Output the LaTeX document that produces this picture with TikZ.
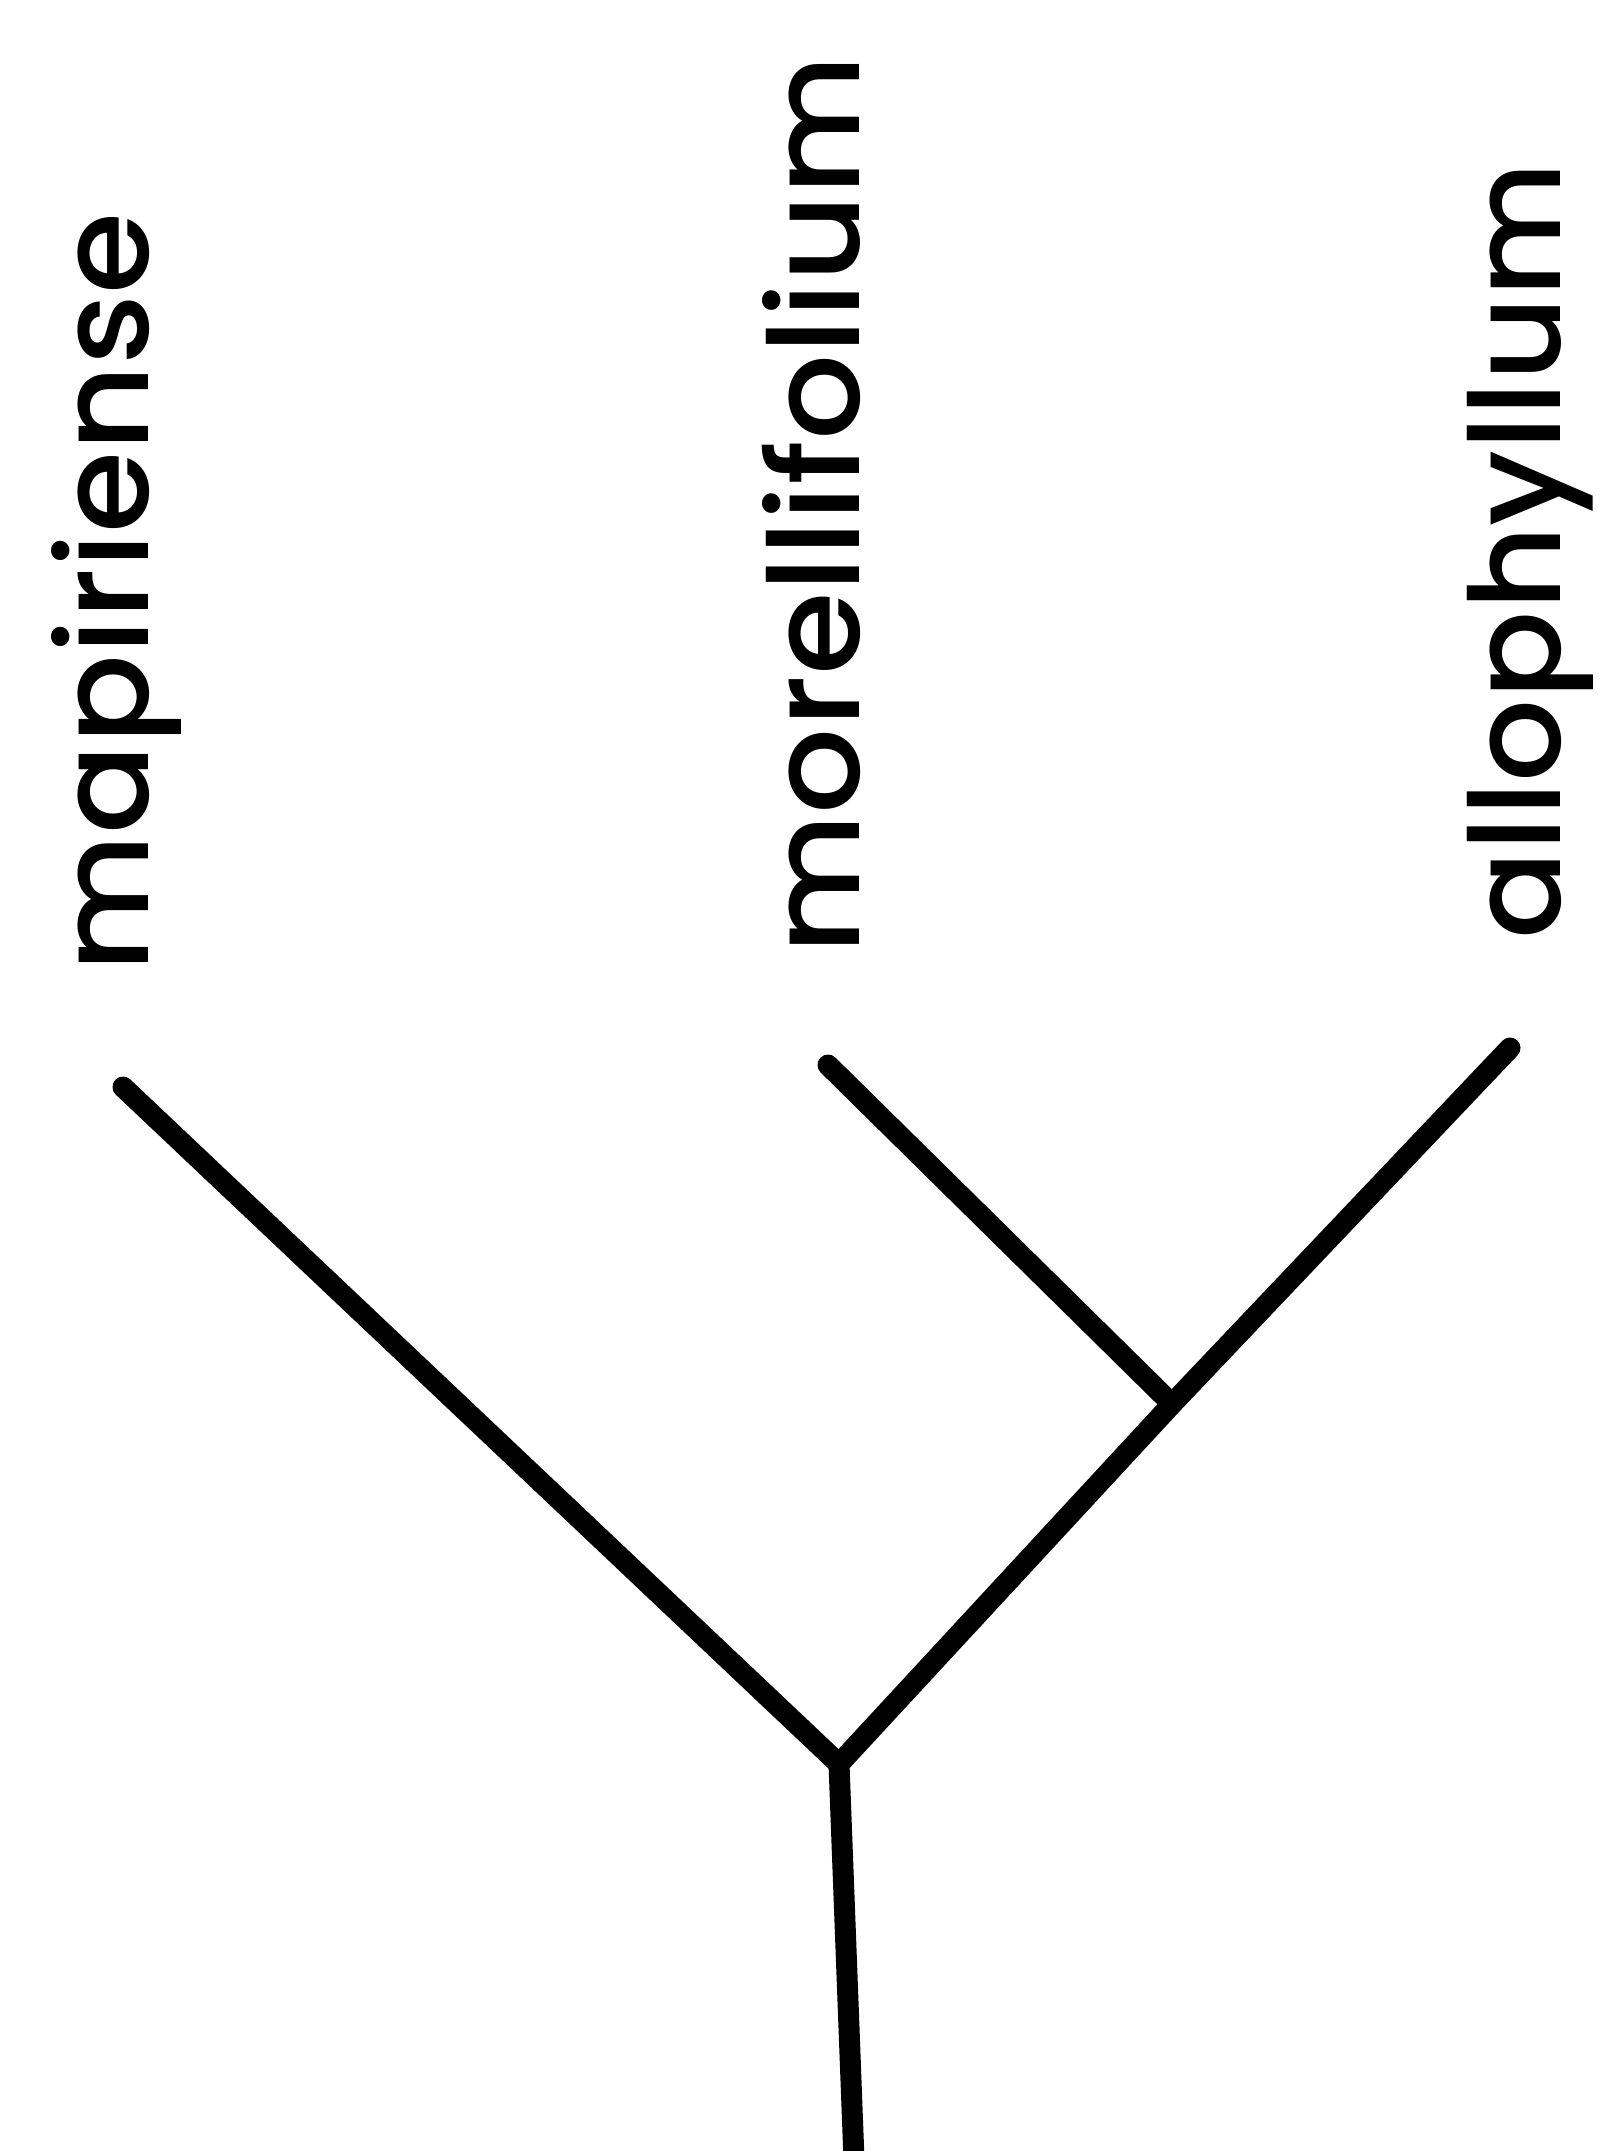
\documentclass[tikz,border=0pt]{standalone}
\usepackage{fontspec}
\setmainfont{Poppins}[UprightFont=* Medium]
\usepackage{graphicx}
\newcommand\fitlabel[2]{\sbox0{#2}\pgfmathsetmacro\fitratio{#1/\wd0}\scalebox{\fitratio}[1]{\usebox0}}
\tikzset{
  branch/.style={line width=10.5pt, line cap=round, line join=round, black},
  taxon/.style={rotate=90, anchor=base west, inner sep=0pt, font=\fontsize{63}{70}\selectfont}
}
\begin{document}
\begin{tikzpicture}[x=0.5pt,y=-0.5pt]
\path[use as bounding box, fill=white] (0,0) rectangle (1603,2151);
% labels
\node[taxon] (lmap) at (148,973) {\fitlabel{380pt}{mapiriense}};
\node[taxon] (lmor) at (859,955) {\fitlabel{450pt}{morellifolium}};
\node[taxon] (lall) at (1560,940) {\fitlabel{389pt}{allophyllum}};
% tree points
\coordinate (tmap) at (123,1087);
\coordinate (tmor) at (828,1065);
\coordinate (tall) at (1510,1048);
\coordinate (junc) at (1172,1404);
\coordinate (root) at (839,1764);
\coordinate (base) at (854,2160);
% branches
\draw[branch] (tmap) -- (root);
\draw[branch] (tmor) -- (junc);
\draw[branch] (tall) -- (junc) -- (root);
\draw[branch] (root) -- (base);
\end{tikzpicture}
\end{document}
